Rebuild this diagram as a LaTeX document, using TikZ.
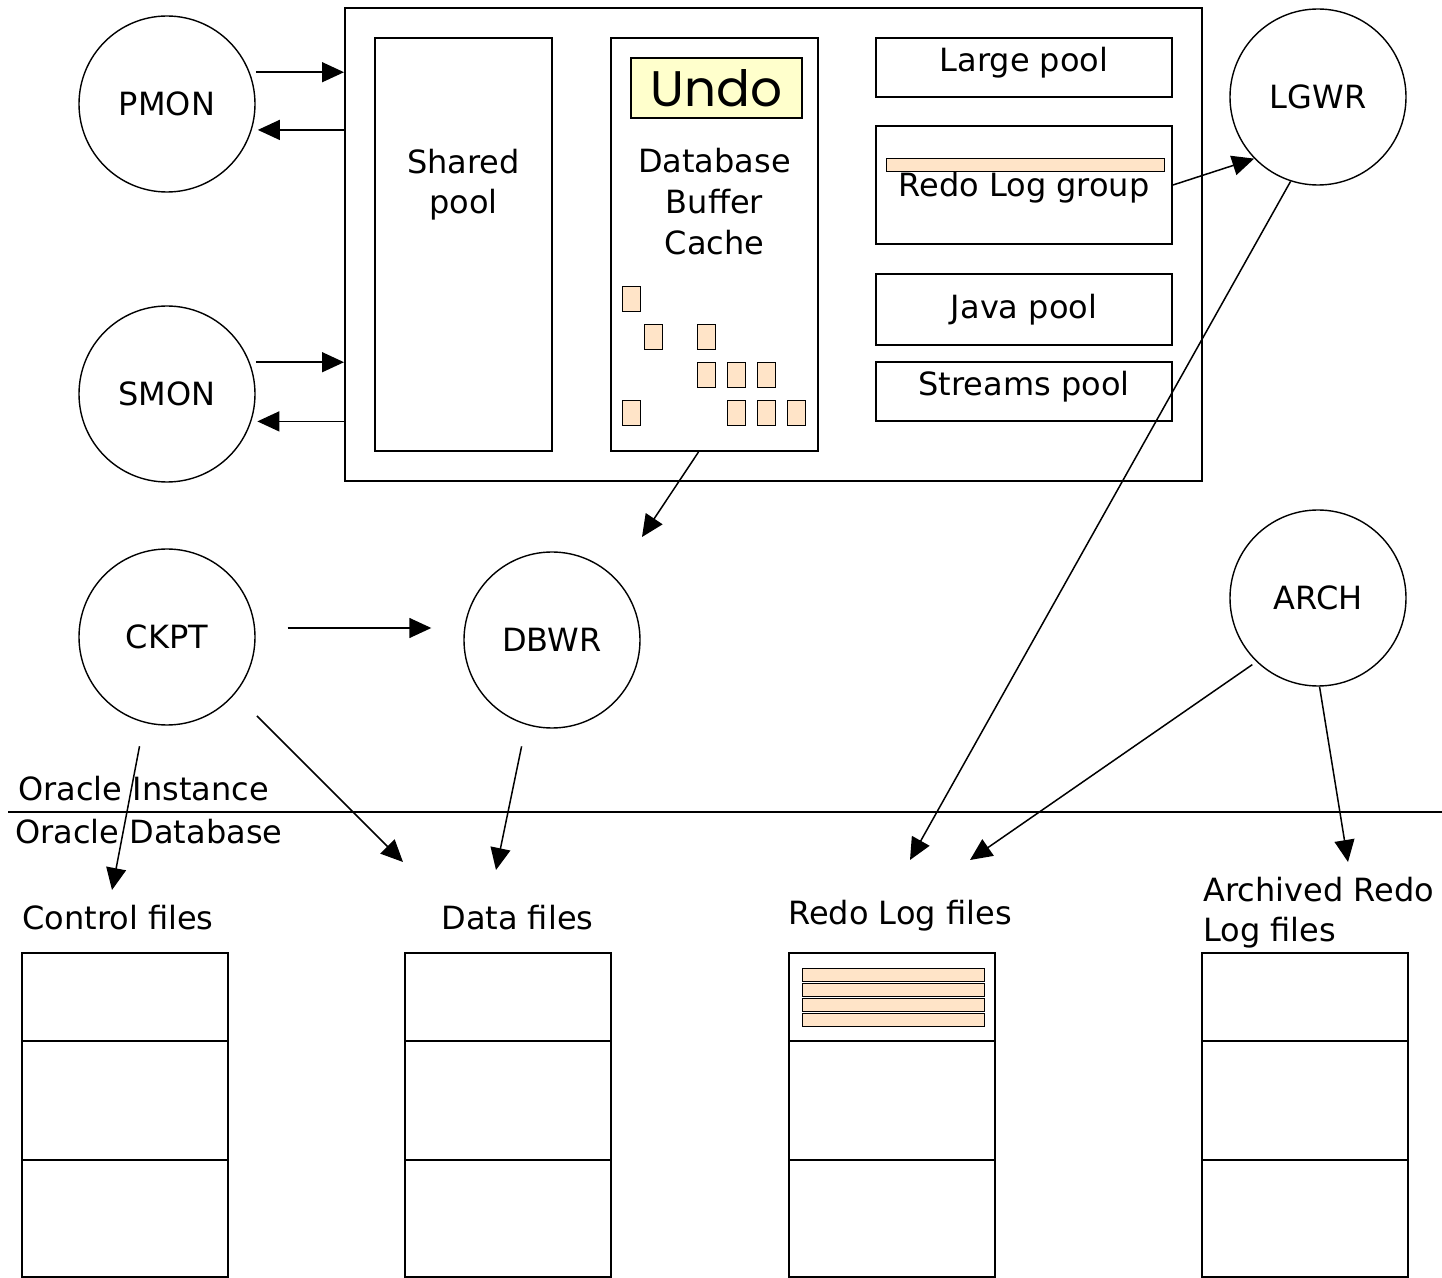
\documentclass[tikz,border=0pt]{standalone}
\usepackage{fontspec}
\setmainfont{DejaVu Sans}
\newfontfamily\undofont{Poppins}
\usetikzlibrary{arrows.meta,positioning}
\definecolor{peach}{RGB}{255,228,200}
\definecolor{undoyellow}{RGB}{255,255,204}
\tikzset{
  proc/.style={shape=circle,draw,line width=0.7pt,minimum size=88pt,inner sep=0pt},
  pool/.style={shape=rectangle,draw,line width=1pt,inner sep=0pt},
  block/.style={shape=rectangle,draw,line width=0.5pt,fill=peach,inner sep=0pt},
  filebox/.style={shape=rectangle,draw,line width=1pt,minimum width=103pt,inner sep=0pt},
  txt/.style={inner sep=0pt,anchor=base},
  flow/.style={->,line width=0.75pt},
}
\begin{document}
\begin{tikzpicture}[x=0.5pt,y=-0.5pt,>={Triangle[length=11pt,width=10pt]},font=\fontsize{16pt}{20pt}\selectfont]
	\useasboundingbox (0,0) rectangle (1442,1278);

	% SGA and its pools
	\node (sga) at (773.5,244.5)[pool,minimum width=428.5pt,minimum height=236.5pt] {};
	\node (shared) at (463.5,244.5)[pool,minimum width=88.5pt,minimum height=206.5pt] {};
	\node (cache) at (714.5,244.5)[pool,minimum width=103.5pt,minimum height=206.5pt] {};
	\node (undo) at (716.5,88)[pool,line width=0.7pt,fill=undoyellow,minimum width=85.5pt,minimum height=30pt,font=\undofont\fontsize{25pt}{28pt}\selectfont] {Undo};
	\node (large) at (1024,67.5)[pool,minimum width=148pt,minimum height=29.5pt] {};
	\node (redogrp) at (1024,185)[pool,minimum width=148pt,minimum height=59pt] {};
	\node (java) at (1024,309.5)[pool,minimum width=148pt,minimum height=35.5pt] {};
	\node (streams) at (1024,391.5)[pool,minimum width=148pt,minimum height=29.5pt] {};
	\node (redobar) at (1025,165.5)[block,minimum width=139pt,minimum height=6.5pt] {};

	\foreach \t/\x/\y [count=\i] in {Shared/463.5/174, pool/463.5/214, Database/714.5/173, Buffer/714.5/214, Cache/714.5/255,
		Large pool/1024/72, Redo Log group/1024/197, Java pool/1024/319, Streams pool/1024/396}
		\node (lbl\i) at (\x,\y)[txt] {\t};

	% buffers
	\foreach \x/\y [count=\i] in {631/299, 653/337.5, 706/337.5, 706/375, 736/375, 766/375, 631/413, 736/413, 766/413, 796/413}
		\node (buf\i) at (\x,\y)[block,minimum width=9pt,minimum height=12.5pt] {};

	% background processes
	\node (pmon) at (167,104)[proc] {PMON};
	\node (smon) at (167,394)[proc] {SMON};
	\node (ckpt) at (167,637)[proc] {CKPT};
	\node (dbwr) at (552,640)[proc] {DBWR};
	\node (lgwr) at (1318,97)[proc] {LGWR};
	\node (arch) at (1318,598)[proc] {ARCH};

	% instance / database border
	\coordinate (sepL) at (8,812);
	\coordinate (sepR) at (1442,812);
	\draw[line width=1pt] (sepL) -- (sepR);
	\node (inst) at (18,800)[txt,anchor=base west] {Oracle Instance};
	\node (dbase) at (15,843)[txt,anchor=base west] {Oracle Database};

	% files
	\foreach \f/\x in {ctl/125, data/507.5, redo/892, arcd/1305} {
		\node (\f1) at (\x,997)[filebox,minimum height=44pt] {};
		\node (\f2) [filebox,minimum height=59.5pt,below=-1pt of \f1] {};
		\node (\f3) [filebox,minimum height=58.5pt,below=-1pt of \f2] {};
	}
	\foreach \y [count=\i] in {974.5,989.5,1004.5,1019.5}
		\node (logbar\i) at (893,\y)[block,minimum width=91pt,minimum height=6.5pt] {};

	\node (ctllbl) at (22,929)[txt,anchor=base west] {Control files};
	\node (datalbl) at (441,929)[txt,anchor=base west] {Data files};
	\node (redolbl) at (788,924)[txt,anchor=base west] {Redo Log files};
	\node (arcdlbl) at (1203,901)[txt,anchor=base west] {Archived Redo};
	\node (arcdlbl2) at (1203,941)[txt,anchor=base west] {Log files};

	% connectors
	\coordinate (dbwrin) at (642,537);
	\coordinate (ctlin) at (112,890);
	\coordinate (datain) at (403,862);
	\coordinate (datain2) at (496,870);
	\coordinate (redoin) at (910,860);
	\coordinate (redoin2) at (970,860);
	\coordinate (arcdin) at (1348,862);

	\draw[flow,shorten <=3pt] (pmon.21) -- (pmon.21 -| sga.west);
	\draw[flow,shorten >=3pt] (pmon.-17 -| sga.west) -- (pmon.-17);
	\draw[flow,shorten <=3pt] (smon.21) -- (smon.21 -| sga.west);
	\draw[flow,shorten >=3pt] (smon.-18 -| sga.west) -- (smon.-18);
	\draw[flow] (redogrp.east) -- (lgwr.224);
	\draw[flow] (lgwr.252) -- (redoin);
	\draw[flow] ([xshift=-8pt]cache.south) -- (dbwrin);
	\draw[flow,shorten <=16pt,shorten >=16pt] ([yshift=4.5pt]ckpt.east) -- ([yshift=6pt]dbwr.west);
	\draw[flow,shorten <=12pt] (ckpt.255) -- (ctlin);
	\draw[flow,shorten <=15.5pt] (ckpt.-40) -- (datain);
	\draw[flow,shorten <=11pt] (dbwr.253) -- (datain2);
	\draw[flow,shorten <=2.5pt] (arch.226) -- (redoin2);
	\draw[flow] (arch.271) -- (arcdin);
\end{tikzpicture}
\end{document}
